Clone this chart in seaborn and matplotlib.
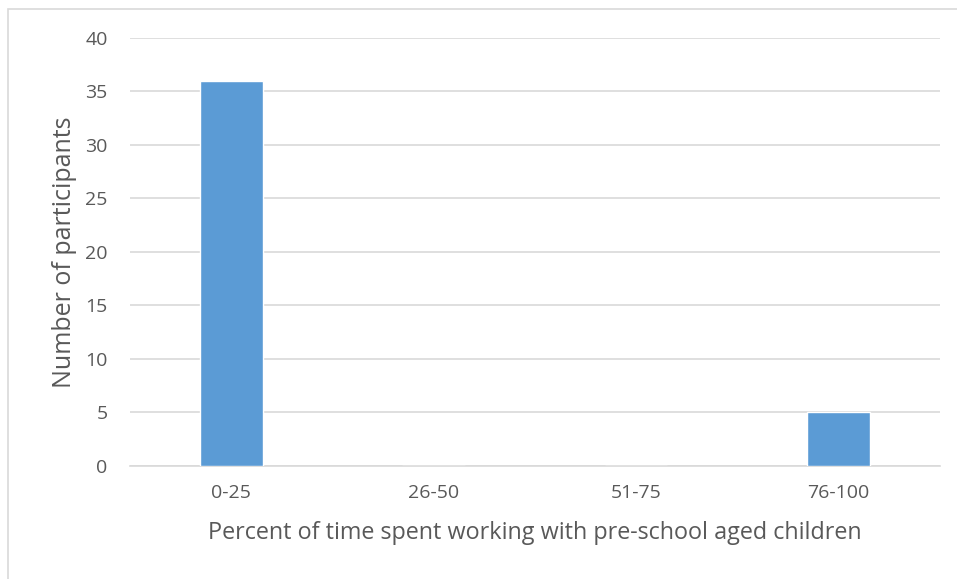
import matplotlib
matplotlib.use("Agg")
import matplotlib.pyplot as plt
import seaborn as sns
import pandas as pd
from matplotlib.patches import Rectangle

# dados
categories = ['0-25', '26-50', '51-75', '76-100']
participants = [36, 0, 0, 5]
y_ticks = [0, 5, 10, 15, 20, 25, 30, 35, 40]

sns.set_theme(style="white")
plt.rcParams['font.family'] = ['Open Sans', 'DejaVu Sans']

df = pd.DataFrame({'faixa': categories, 'n': participants})

fig = plt.figure(figsize=(9.57, 5.79), dpi=100)
ax = fig.add_axes([0.1358, 0.1952, 0.982 - 0.1358, 0.9344 - 0.1952])

sns.barplot(data=df, x='faixa', y='n', color='#5B9BD5', saturation=1,
            width=0.31, ax=ax, zorder=3)

ax.set_ylim(0, 40)
ax.set_yticks(y_ticks)
ax.yaxis.grid(True, color='#D9D9D9', linewidth=1.2, zorder=0)
ax.set_axisbelow(True)
for s in ['top', 'right', 'left']:
    ax.spines[s].set_visible(False)
ax.spines['bottom'].set_color('#D9D9D9')
ax.spines['bottom'].set_linewidth(1.2)
ax.tick_params(axis='both', length=0, labelsize=14, labelcolor='#595959')
ax.tick_params(axis='x', pad=13)
ax.tick_params(axis='y', pad=16)

ax.set_xlabel('Percent of time spent working with pre-school aged children',
              fontsize=16.8, color='#595959', labelpad=14)
ax.set_ylabel('Number of participants', fontsize=18, color='#595959', labelpad=6)

# borda clara da figura
fig.patches.append(Rectangle((8 / 957, -0.1), 1.2, 1 - 9 / 579 + 0.1,
                             transform=fig.transFigure, fill=False,
                             edgecolor='#D9D9D9', linewidth=1.2))

fig.savefig('out.png', dpi=100)
